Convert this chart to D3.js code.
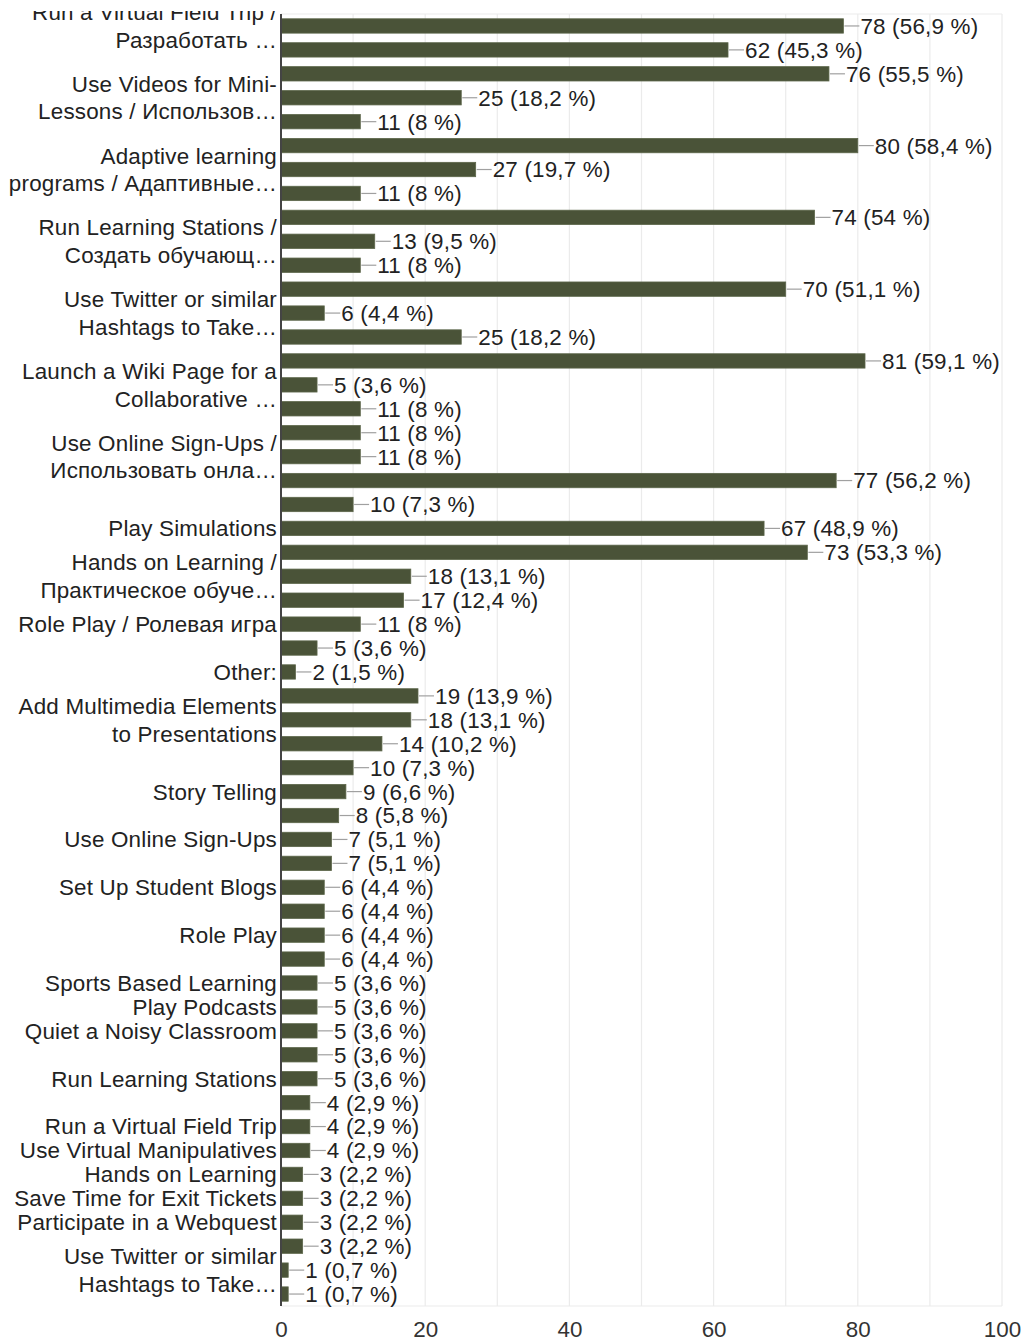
<!DOCTYPE html>
<html>
<head>
<meta charset="utf-8">
<script src="https://cdn.jsdelivr.net/npm/d3@7"></script>
<style>
  html, body { margin: 0; padding: 0; background: #fff; }
  svg { display: block; font-family: "Liberation Sans", Arial, sans-serif; }
</style>
</head>
<body>
<svg id="chart" width="1024" height="1342"></svg>
<script>
// Response counts per answer option (137 respondents in total)
const respondents = 137;

const counts = [
  78, 62, 76, 25, 11, 80, 27, 11, 74, 13, 11, 70, 6, 25, 81, 5, 11, 11,
  11, 77, 10, 67, 73, 18, 17, 11, 5, 2, 19, 18, 14, 10, 9, 8, 7, 7,
  6, 6, 6, 6, 5, 5, 5, 5, 5, 4, 4, 4, 3, 3, 3, 3, 1, 1
];

// Category label for each bar ("" = no label shown next to that bar)
const categories = [
  "Run a Virtual Field Trip /\nРазработать …", "", "",
  "Use Videos for Mini-\nLessons / Использов…", "", "",
  "Adaptive learning\nprograms / Адаптивные…", "", "",
  "Run Learning Stations /\nСоздать обучающ…", "", "",
  "Use Twitter or similar\nHashtags to Take…", "", "",
  "Launch a Wiki Page for a\nCollaborative …", "", "",
  "Use Online Sign-Ups /\nИспользовать онла…", "", "",
  "Play Simulations", "",
  "Hands on Learning /\nПрактическое обуче…", "",
  "Role Play / Ролевая игра", "",
  "Other:", "",
  "Add Multimedia Elements\nto Presentations", "", "",
  "Story Telling", "",
  "Use Online Sign-Ups", "",
  "Set Up Student Blogs", "",
  "Role Play", "",
  "Sports Based Learning",
  "Play Podcasts",
  "Quiet a Noisy Classroom", "",
  "Run Learning Stations", "",
  "Run a Virtual Field Trip",
  "Use Virtual Manipulatives",
  "Hands on Learning",
  "Save Time for Exit Tickets",
  "Participate in a Webquest", "",
  "Use Twitter or similar\nHashtags to Take…", ""
];

const xTicks = [0, 20, 40, 60, 80, 100];
const gridTicks = [10, 20, 30, 40, 50, 60, 70, 80, 90, 100];

const rows = counts.map((v, i) => ({ i, value: v, label: categories[i] }));

const svg = d3.select("#chart");
const plot = { left: 281, right: 1002, top: 14, bottom: 1306 };
const fontSize = 22.4;
const spacing = 0.2;
const capShift = 22 * 0.36;

const x = d3.scaleLinear().domain([0, 100]).range([plot.left, plot.right]);
const y = d3.scaleBand()
  .domain(rows.map(d => d.i))
  .range([plot.top, plot.bottom])
  .paddingInner(0.4)
  .paddingOuter(0.2);
const cy = i => y(i) + y.bandwidth() / 2;

// Percent text like "56,9" or "8"
const pct = v => d3.format(".1f")(v / respondents * 100).replace(/\.0$/, "").replace(".", ",");

// Grid and frame
const grid = svg.append("g");
grid.selectAll("line.v").data(gridTicks).join("line")
  .attr("x1", d => x(d)).attr("x2", d => x(d))
  .attr("y1", plot.top).attr("y2", plot.bottom)
  .attr("stroke", "#ebebeb").attr("stroke-width", 1.2);
grid.selectAll("line.h").data([plot.top, plot.bottom]).join("line")
  .attr("x1", plot.left).attr("x2", plot.right)
  .attr("y1", d => d).attr("y2", d => d)
  .attr("stroke", "#ebebeb").attr("stroke-width", 1.2);

// Bars
svg.append("g").selectAll("rect").data(rows).join("rect")
  .attr("x", x(0))
  .attr("y", d => y(d.i))
  .attr("width", d => x(d.value) - x(0))
  .attr("height", y.bandwidth())
  .attr("fill", "#4a5338")
  .attr("stroke", "#5c664a")
  .attr("stroke-width", 0.8);

// Baseline
svg.append("line")
  .attr("x1", x(0)).attr("x2", x(0))
  .attr("y1", plot.top).attr("y2", plot.bottom)
  .attr("stroke", "#444").attr("stroke-width", 2);

// Value annotations with leader lines
const ann = svg.append("g");
ann.selectAll("line").data(rows).join("line")
  .attr("x1", d => x(d.value) + 1)
  .attr("x2", d => x(d.value) + 16)
  .attr("y1", d => cy(d.i)).attr("y2", d => cy(d.i))
  .attr("stroke", "#a0a0a0").attr("stroke-width", 1.2);
ann.selectAll("text").data(rows).join("text")
  .attr("x", d => x(d.value) + 17)
  .attr("y", d => cy(d.i) + capShift)
  .attr("font-size", fontSize)
  .attr("letter-spacing", spacing)
  .attr("fill", "#222")
  .text(d => `${d.value} (${pct(d.value)} %)`);

// Category labels (wrapped into lines, centered on their bar)
svg.append("defs").append("clipPath").attr("id", "labelClip")
  .append("rect").attr("x", 0).attr("y", 11).attr("width", plot.left).attr("height", 1342);
const labels = svg.append("g").attr("clip-path", "url(#labelClip)");
const lineGap = 27.6;
labels.selectAll("text").data(rows.filter(d => d.label)).join("text")
  .attr("text-anchor", "end")
  .attr("font-size", fontSize)
  .attr("letter-spacing", spacing)
  .attr("fill", "#222")
  .each(function (d) {
    const lines = d.label.split("\n");
    const t = d3.select(this);
    lines.forEach((ln, k) => {
      t.append("tspan")
        .attr("x", plot.left - 4)
        .attr("y", cy(d.i) + capShift + (k - (lines.length - 1) / 2) * lineGap)
        .text(ln);
    });
  });

// X axis tick labels
const xAxis = d3.axisBottom(x).tickValues(xTicks).tickSize(0).tickPadding(0);
const ax = svg.append("g").attr("transform", `translate(0,${plot.bottom})`).call(xAxis);
ax.select(".domain").remove();
ax.selectAll("text")
  .attr("font-size", fontSize)
  .attr("font-family", "Liberation Sans, Arial, sans-serif")
  .attr("fill", "#333")
  .attr("dy", null)
  .attr("y", 31);
</script>
</body>
</html>
